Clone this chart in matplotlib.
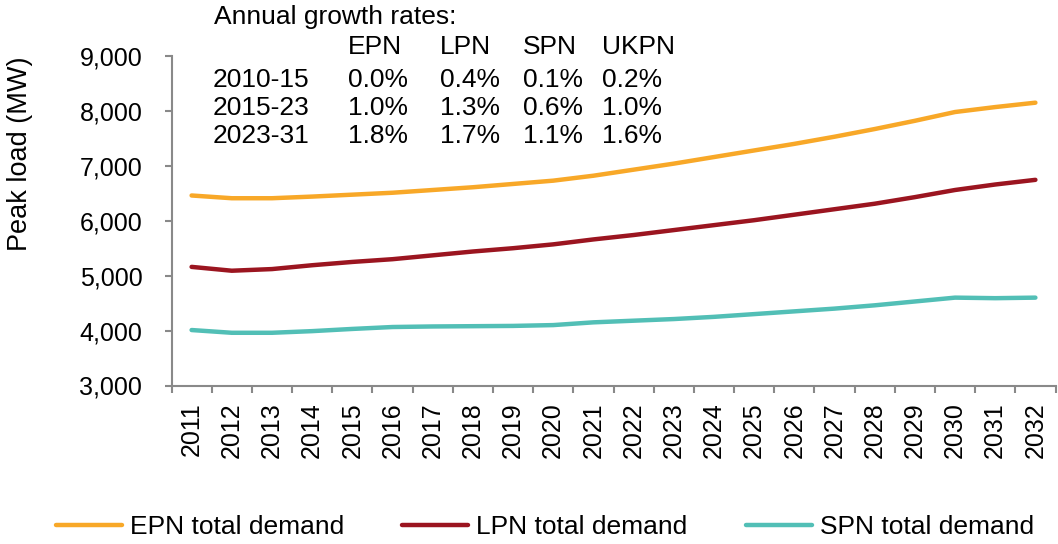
import matplotlib
matplotlib.use("Agg")
import matplotlib.pyplot as plt
import numpy as np

plt.rcParams['font.family'] = ['Liberation Sans', 'DejaVu Sans']

years = [str(y) for y in range(2011, 2033)]
epn = [6460, 6410, 6410, 6440, 6475, 6510, 6560, 6610, 6670, 6730, 6820, 6930,
       7040, 7160, 7280, 7400, 7530, 7670, 7820, 7980, 8070, 8150]
lpn = [5160, 5090, 5120, 5190, 5250, 5300, 5370, 5440, 5500, 5570, 5660, 5740,
       5830, 5920, 6010, 6110, 6210, 6310, 6430, 6560, 6660, 6745]
spn = [4010, 3960, 3960, 3990, 4030, 4065, 4075, 4080, 4085, 4100, 4150, 4180,
       4210, 4250, 4300, 4350, 4400, 4460, 4530, 4600, 4590, 4600]

table_cols = ["EPN", "LPN", "SPN", "UKPN"]
table_rows = ["2010-15", "2015-23", "2023-31"]
table_vals = [["0.0%", "0.4%", "0.1%", "0.2%"],
              ["1.0%", "1.3%", "0.6%", "1.0%"],
              ["1.8%", "1.7%", "1.1%", "1.6%"]]

series = [("EPN total demand", epn, "#F8A828"),
          ("LPN total demand", lpn, "#9B1520"),
          ("SPN total demand", spn, "#52BFB6")]

W, H = 1058, 544
fig = plt.figure(figsize=(W / 100, H / 100), dpi=100)
ax = fig.add_axes([171.5 / W, 1 - 385.5 / H, (1055.5 - 171.5) / W, (385.5 - 56) / H])

x = np.arange(len(years))
handles = []
for name, vals, col in series:
    h, = ax.plot(x, vals, color=col, lw=3.2, solid_capstyle='round', label=name)
    handles.append(h)

ax.set_xlim(-0.5, len(years) - 0.5)
ax.set_ylim(3000, 9000)
ax.set_yticks(np.arange(3000, 9001, 1000))
ax.set_yticklabels([f"{v:,}" for v in range(3000, 9001, 1000)], fontsize=18)
ax.set_xticks(x)
ax.set_xticklabels(years, rotation=90, fontsize=18)
ax.set_xticks(np.arange(-0.5, len(years), 1), minor=True)
ax.tick_params(axis='x', which='major', length=0, pad=12)
ax.tick_params(axis='x', which='minor', length=5, color='#898989', width=1.5)
ax.tick_params(axis='y', length=5, color='#898989', width=1.5, pad=16)

for s in ['top', 'right']:
    ax.spines[s].set_visible(False)
for s in ['left', 'bottom']:
    ax.spines[s].set_color('#898989')
    ax.spines[s].set_linewidth(1.5)

fig.text(20 / W, 1 - 154 / H, "Peak load (MW)", rotation=90, fontsize=19.5,
         ha='center', va='center')

# growth-rate table
fs = 19
fig.text(214 / W, 1 - 17 / H, "Annual growth rates:", fontsize=fs, ha='left', va='center')
col_x = [348, 440, 523, 602]
for cx, c in zip(col_x, table_cols):
    fig.text(cx / W, 1 - 47 / H, c, fontsize=fs, ha='left', va='center')
row_y = [80, 108, 136]
for ry, rl, rv in zip(row_y, table_rows, table_vals):
    fig.text(213 / W, 1 - ry / H, rl, fontsize=fs, ha='left', va='center')
    for cx, v in zip(col_x, rv):
        fig.text(cx / W, 1 - ry / H, v, fontsize=fs, ha='left', va='center')

leg = fig.legend(handles=handles, loc='center', bbox_to_anchor=(545 / W, 1 - 527 / H),
                 ncol=3, frameon=False, fontsize=19, handlelength=2.5,
                 handletextpad=0.3, columnspacing=2.2)

fig.savefig("out.png", dpi=100)
